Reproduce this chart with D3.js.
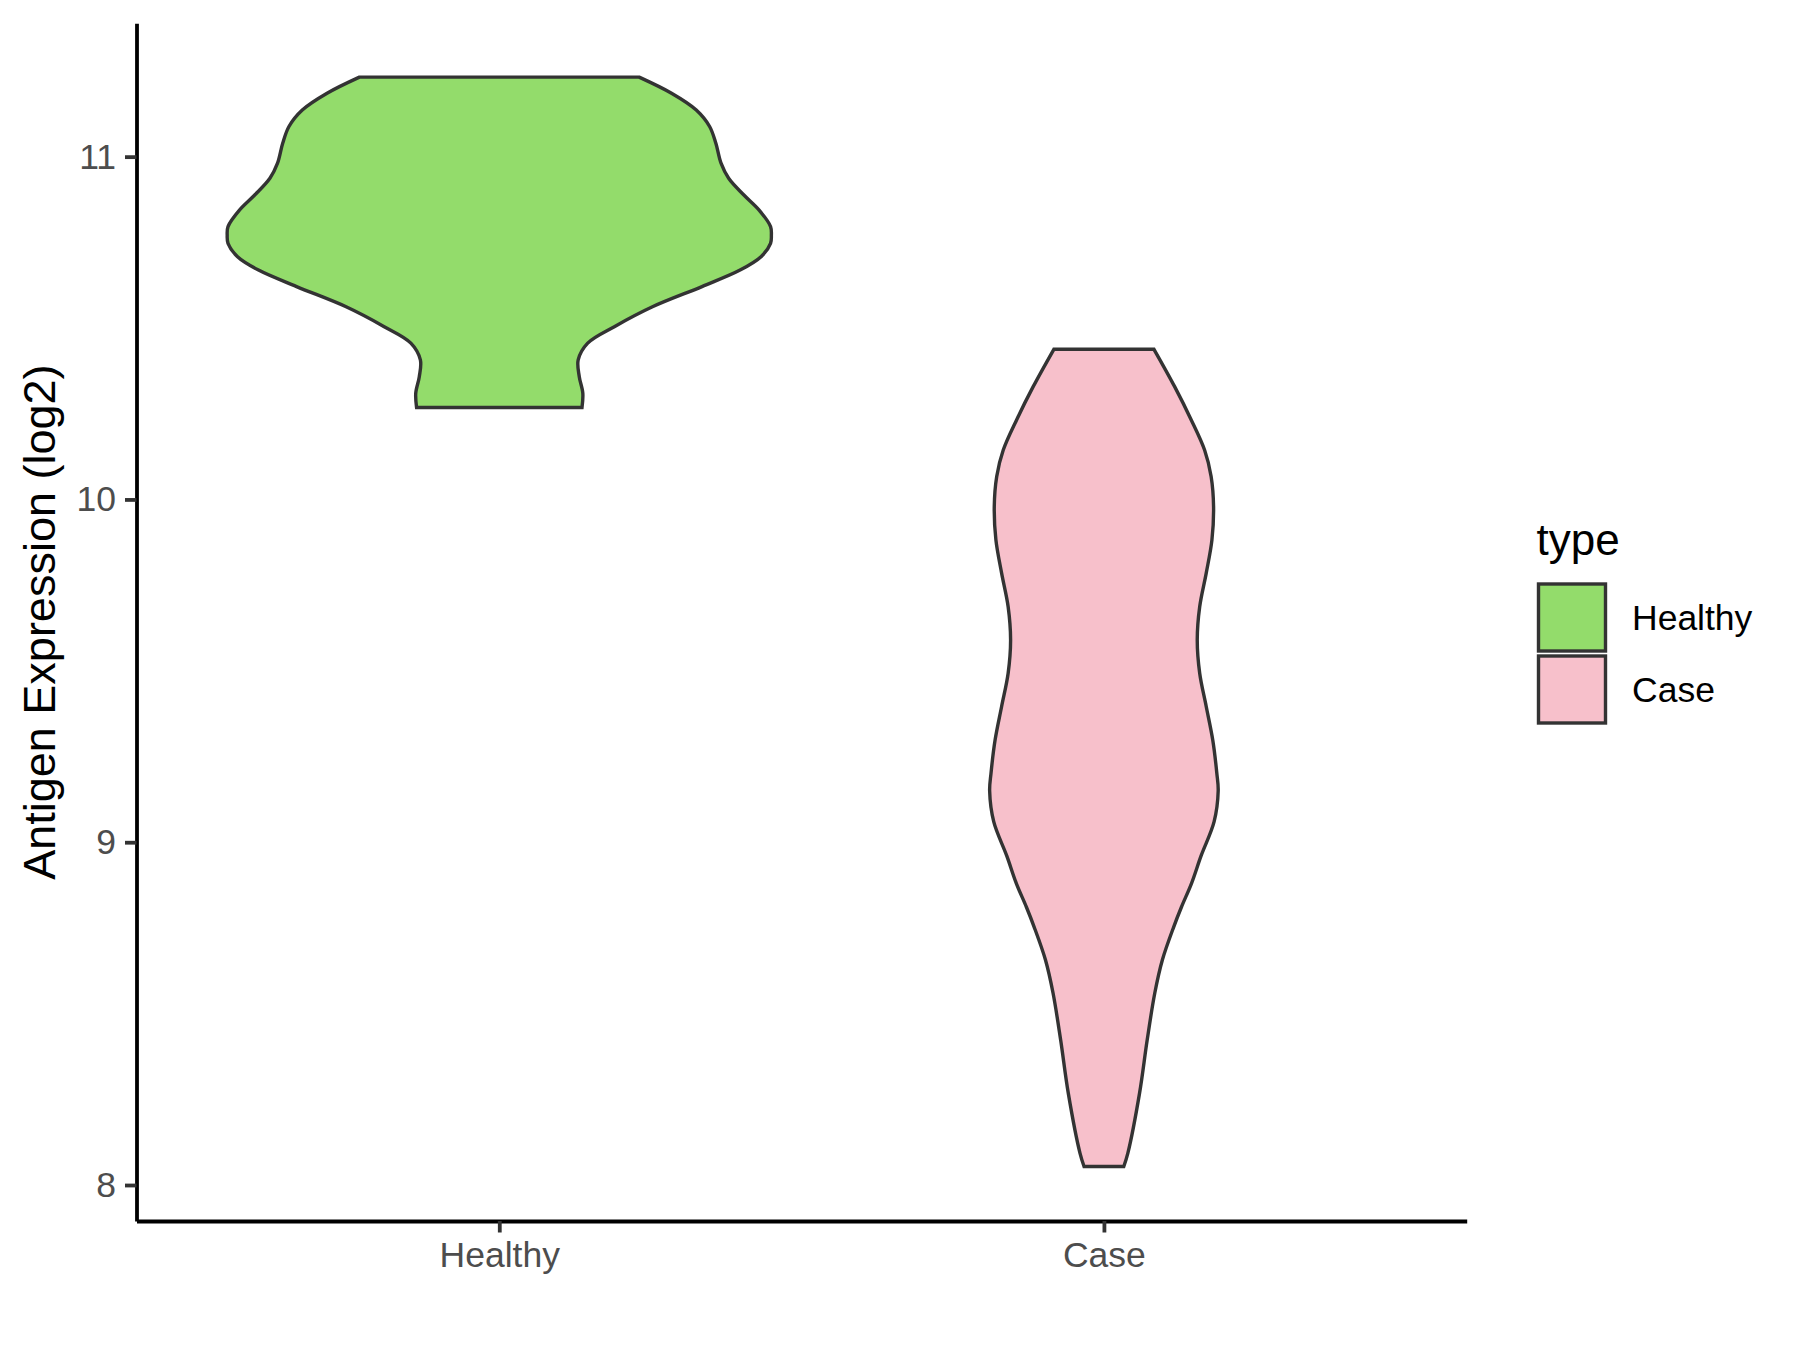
<!DOCTYPE html>
<html>
<head>
<meta charset="utf-8">
<script src="https://cdn.jsdelivr.net/npm/d3@7"></script>
<style>
  html, body { margin: 0; padding: 0; background: #ffffff; }
  svg { display: block; font-family: "Liberation Sans", Arial, Helvetica, sans-serif; }
</style>
</head>
<body>
<svg id="chart" width="1800" height="1350"></svg>
<script>
// ---- data ----
const categories = ["Healthy", "Case"];
const yTicks = [8, 9, 10, 11];
const yLabel = "Antigen Expression (log2)";
const legendTitle = "type";

// violin outlines: expression value (log2) and relative half-width (1 = widest)
const healthyValues = [11.232, 11.185, 11.136, 11.088, 11.039, 10.981, 10.937, 10.888, 10.844, 10.796, 10.770, 10.747, 10.708, 10.669, 10.621, 10.562, 10.504, 10.456, 10.407, 10.358, 10.310, 10.268];
const healthyWidths = [0.514, 0.633, 0.724, 0.773, 0.796, 0.815, 0.843, 0.899, 0.955, 0.997, 1.000, 0.997, 0.962, 0.885, 0.745, 0.563, 0.423, 0.325, 0.290, 0.294, 0.307, 0.304];

const caseValues = [10.438, 10.329, 10.232, 10.144, 10.067, 9.979, 9.882, 9.785, 9.687, 9.590, 9.493, 9.396, 9.298, 9.201, 9.150, 9.060, 8.960, 8.880, 8.811, 8.754, 8.657, 8.560, 8.423, 8.268, 8.093, 8.054];
const caseWidths = [0.184, 0.260, 0.321, 0.370, 0.394, 0.403, 0.397, 0.376, 0.352, 0.343, 0.352, 0.376, 0.400, 0.415, 0.420, 0.405, 0.357, 0.322, 0.285, 0.257, 0.215, 0.187, 0.159, 0.131, 0.088, 0.073];

const fills = { Healthy: "#93DC6B", Case: "#F7C0CB" };

// ---- layout ----
const panel = { left: 136.5, right: 1466.7, top: 23.3, bottom: 1221 };
const svg = d3.select("#chart");

const x = d3.scalePoint().domain(categories).range([panel.left, panel.right]).padding(0.6);
const y = d3.scaleLinear().domain([7.895, 11.389]).range([panel.bottom, panel.top]);
const w = d3.scaleLinear().domain([0, 1]).range([0, 0.45 * x.step()]);

const violins = [
  { cat: "Healthy", pts: healthyValues.map((v, i) => ({ v, r: healthyWidths[i] })) },
  { cat: "Case", pts: caseValues.map((v, i) => ({ v, r: caseWidths[i] })) }
];

violins.forEach(d => {
  const cx = x(d.cat);
  const area = d3.area()
    .y(p => y(p.v))
    .x0(p => cx - w(p.r))
    .x1(p => cx + w(p.r))
    .curve(d3.curveCatmullRom.alpha(0.5));
  svg.append("path")
    .attr("d", area(d.pts) + "Z")
    .attr("fill", fills[d.cat])
    .attr("stroke", "#333333")
    .attr("stroke-width", 3.4)
    .attr("stroke-linejoin", "miter");
});

// ---- axes ----
const fmt = d3.format("d");
const yAxis = svg.append("g")
  .attr("transform", `translate(${panel.left},0)`)
  .call(d3.axisLeft(y).tickValues(yTicks).tickFormat(fmt).tickSize(11.5).tickSizeOuter(0).tickPadding(9));
yAxis.select(".domain").attr("stroke", "#000").attr("stroke-width", 3.8);
yAxis.selectAll(".tick line").attr("stroke", "#333333").attr("stroke-width", 3.8);
yAxis.selectAll(".tick text")
  .attr("fill", "#4D4D4D")
  .style("font-size", "35.5px")
  .style("font-family", "'Liberation Sans', Arial, sans-serif");

const xAxis = svg.append("g")
  .attr("transform", `translate(0,${panel.bottom})`)
  .call(d3.axisBottom(x).tickSize(11.5).tickSizeOuter(0).tickPadding(9));
xAxis.select(".domain").attr("stroke", "#000").attr("stroke-width", 3.8);
xAxis.selectAll(".tick line").attr("stroke", "#333333").attr("stroke-width", 3.8);
xAxis.selectAll(".tick text")
  .attr("fill", "#4D4D4D")
  .style("font-size", "35.5px")
  .style("font-family", "'Liberation Sans', Arial, sans-serif");

// y axis title
svg.append("text")
  .attr("transform", `translate(55,${(panel.top + panel.bottom) / 2}) rotate(-90)`)
  .attr("text-anchor", "middle")
  .attr("fill", "#000")
  .style("font-size", "45px")
  .text(yLabel);

// ---- legend ----
const lg = svg.append("g");
lg.append("text")
  .attr("x", 1536.5).attr("y", 555)
  .attr("fill", "#000")
  .style("font-size", "44px")
  .text(legendTitle);

categories.forEach((c, i) => {
  const ky = 584 + i * 72;
  lg.append("rect")
    .attr("x", 1538.5).attr("y", ky)
    .attr("width", 67).attr("height", 67)
    .attr("fill", fills[c])
    .attr("stroke", "#333333")
    .attr("stroke-width", 3.4);
  lg.append("text")
    .attr("x", 1632).attr("y", ky + 33.5 + 12.7)
    .attr("fill", "#000")
    .style("font-size", "35.5px")
    .text(c);
});
</script>
</body>
</html>
